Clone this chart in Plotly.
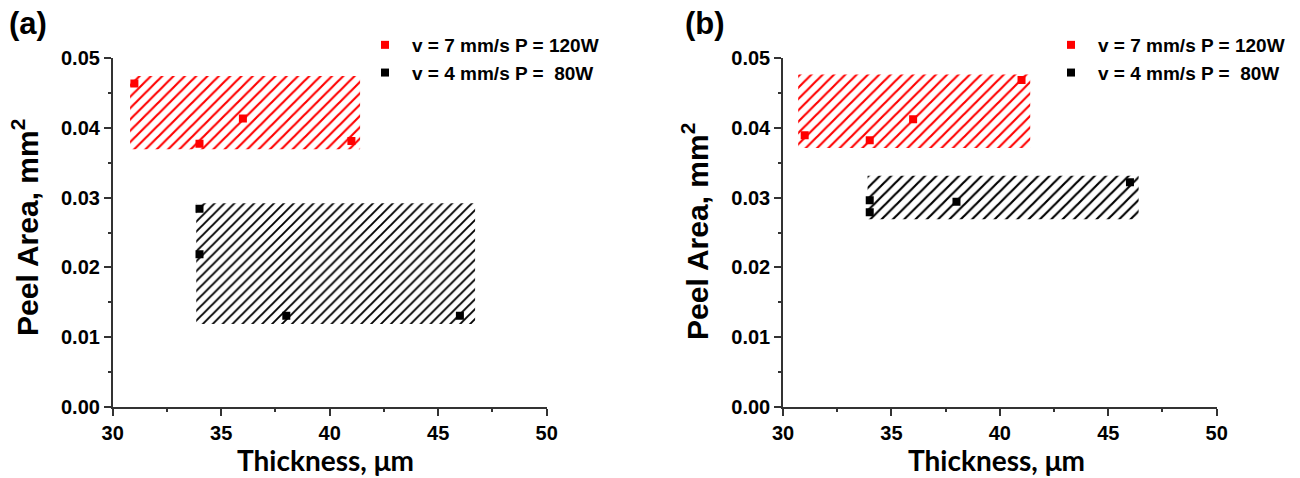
import plotly.graph_objects as go

# ---- data -----------------------------------------------------------------
series_names = ["v = 7 mm/s P = 120W", "v = 4 mm/s P = \u00a080W"]
series_colors = ["#ff0000", "#000000"]

# panel (a)
a_red_x = [31, 34, 36, 41]
a_red_y = [0.0463, 0.0377, 0.0413, 0.0381]
a_blk_x = [34, 34, 38, 46]
a_blk_y = [0.0284, 0.0219, 0.0131, 0.0131]
a_red_band_x = [30.8, 41.4]
a_red_band_y = [0.0369, 0.0474]
a_blk_band_x = [33.85, 46.7]
a_blk_band_y = [0.0119, 0.0292]

# panel (b)
b_red_x = [31, 34, 36, 41]
b_red_y = [0.0389, 0.0382, 0.0412, 0.0468]
b_blk_x = [34, 34, 38, 46]
b_blk_y = [0.0296, 0.0279, 0.0294, 0.0322]
b_red_band_x = [30.7, 41.4]
b_red_band_y = [0.0371, 0.0476]
b_blk_band_x = [33.9, 46.4]
b_blk_band_y = [0.0269, 0.0331]

x_ticks = [30, 35, 40, 45, 50]
y_ticks = [0.00, 0.01, 0.02, 0.03, 0.04, 0.05]

W, H = 1300, 478
fig = go.Figure()


def band(bx, by, color, size, xa, ya):
    """Hatched rectangle spanning bx x by."""
    fig.add_trace(go.Scatter(
        x=[bx[0], bx[1], bx[1], bx[0], bx[0]],
        y=[by[0], by[0], by[1], by[1], by[0]],
        mode="lines", fill="toself",
        line=dict(width=0, color="rgba(0,0,0,0)"),
        fillcolor="rgba(0,0,0,0)",
        fillpattern=dict(shape="/", fgcolor=color, bgcolor="rgba(0,0,0,0)",
                         fgopacity=1, size=size, solidity=0.27),
        showlegend=False, hoverinfo="skip", xaxis=xa, yaxis=ya,
    ))


def points(x, y, name, color, xa, ya, legend):
    fig.add_trace(go.Scatter(
        x=x, y=y, mode="markers", name=name,
        marker=dict(symbol="square", size=8, color=color),
        xaxis=xa, yaxis=ya, legend=legend,
    ))


band(a_red_band_x, a_red_band_y, series_colors[0], 8, "x", "y")
band(a_blk_band_x, a_blk_band_y, series_colors[1], 7, "x", "y")
points(a_red_x, a_red_y, series_names[0], series_colors[0], "x", "y", "legend")
points(a_blk_x, a_blk_y, series_names[1], series_colors[1], "x", "y", "legend")

band(b_red_band_x, b_red_band_y, series_colors[0], 8, "x2", "y2")
band(b_blk_band_x, b_blk_band_y, series_colors[1], 8, "x2", "y2")
points(b_red_x, b_red_y, series_names[0], series_colors[0], "x2", "y2", "legend2")
points(b_blk_x, b_blk_y, series_names[1], series_colors[1], "x2", "y2", "legend2")

SANS = "Liberation Sans, Arial, sans-serif"
tick_font = dict(family=SANS, size=20, color="#000", weight="bold")
minor_x = dict(ticks="outside", ticklen=3, dtick=2.5, tickcolor="#333", tickwidth=1.5)
minor_y = dict(ticks="outside", ticklen=3, dtick=0.005, tickcolor="#333", tickwidth=1.5)
axis_common = dict(
    showline=True, linecolor="#333", linewidth=1.5, showgrid=False, zeroline=False,
    ticks="outside", ticklen=7, tickwidth=1.5, tickcolor="#333",
    tickfont=tick_font, mirror=False, automargin=False,
)

xdom_a = [112.7 / W, 546.7 / W]
xdom_b = [783.0 / W, 1216.7 / W]
ydom = [1 - 407.3 / H, 1 - 57.7 / H]

legend_font = dict(family=SANS, size=19, color="#000", weight="bold")
fig.update_layout(
    width=W, height=H, autosize=False,
    margin=dict(l=0, r=0, t=0, b=0, pad=0, autoexpand=False),
    paper_bgcolor="white", plot_bgcolor="white",
    xaxis=dict(domain=xdom_a, range=[30, 50], tickvals=x_ticks, anchor="y",
               minor=minor_x, **axis_common),
    yaxis=dict(domain=ydom, range=[0, 0.05], tickvals=y_ticks, tickformat=".2f",
               anchor="x", minor=minor_y, **axis_common),
    xaxis2=dict(domain=xdom_b, range=[30, 50], tickvals=x_ticks, anchor="y2",
                minor=minor_x, **axis_common),
    yaxis2=dict(domain=ydom, range=[0, 0.05], tickvals=y_ticks, tickformat=".2f",
                anchor="x2", minor=minor_y, **axis_common),
    legend=dict(x=358 / W, y=1 - 26 / H, xanchor="left", yanchor="top",
                bgcolor="rgba(0,0,0,0)", itemwidth=44, tracegroupgap=0,
                font=legend_font),
    legend2=dict(x=1044 / W, y=1 - 26 / H, xanchor="left", yanchor="top",
                 bgcolor="rgba(0,0,0,0)", itemwidth=44, tracegroupgap=0,
                 font=legend_font),
    showlegend=True,
)

title_font = dict(family=SANS, size=30, color="#000")
label_font = dict(family=SANS, size=31, color="#000")
xt_font = dict(family="Lato, Carlito, sans-serif", size=28, color="#000")
annos = [
    dict(text="<b>(a)</b>", x=7 / W, y=1 - 23 / H, xanchor="left", yanchor="middle", font=label_font),
    dict(text="<b>(b)</b>", x=683 / W, y=1 - 23 / H, xanchor="left", yanchor="middle", font=label_font),
    dict(text="<b>Peel Area, mm<sup>2</sup></b>", x=25 / W, y=1 - 228 / H, textangle=-90,
         xanchor="center", yanchor="middle", font=title_font),
    dict(text="<b>Peel Area, mm<sup>2</sup></b>", x=695 / W, y=1 - 232 / H, textangle=-90,
         xanchor="center", yanchor="middle", font=title_font),
    dict(text="<b>Thickness, \u03bcm</b>", x=325 / W, y=0, borderpad=0,
         xanchor="center", yanchor="bottom", font=xt_font),
    dict(text="<b>Thickness, \u03bcm</b>", x=996 / W, y=0, borderpad=0,
         xanchor="center", yanchor="bottom", font=xt_font),
]
for a in annos:
    fig.add_annotation(xref="paper", yref="paper", showarrow=False, **a)

fig.write_html("out.html")
